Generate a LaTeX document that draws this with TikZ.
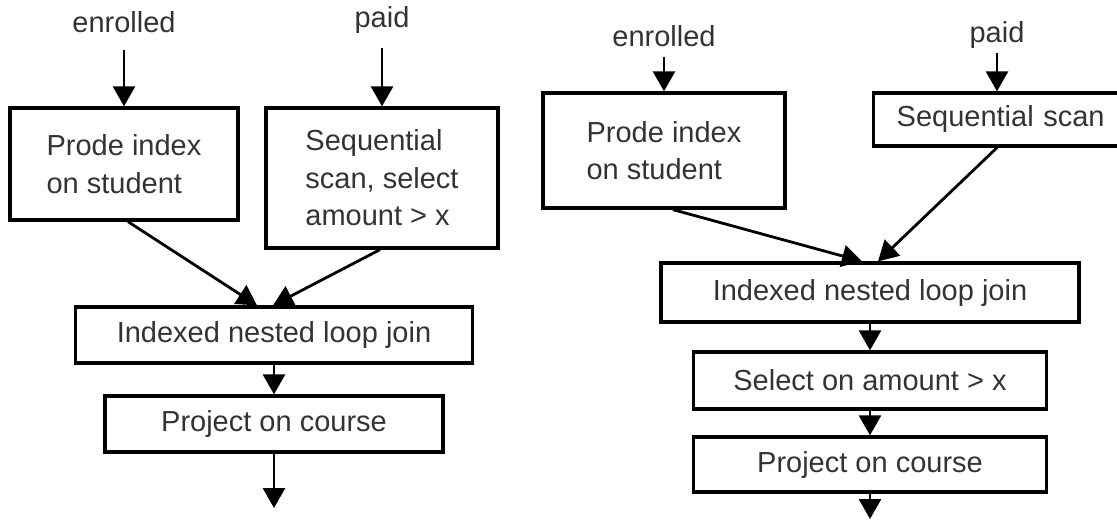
\documentclass[tikz,border=0pt]{standalone}
\usepackage{fontspec}
\setmainfont{Liberation Sans}
\usetikzlibrary{arrows.meta}
\tikzset{
  plan box/.style={
    draw,
    line width=1.65pt,
    inner sep=0pt,
    align=left,
    text=black!80,
    font=\fontsize{14.5pt}{18.75pt}\selectfont
  },
  rel label/.style={
    inner sep=0pt,
    anchor=base,
    text=black!80,
    font=\fontsize{14.5pt}{18.75pt}\selectfont
  },
  flow/.style={
    line width=1.4pt,
    -{Triangle[length=10pt,width=11pt]}
  },
}

\begin{document}
\begin{tikzpicture}[x=0.5pt,y=-0.5pt]
  \useasboundingbox (0,0) rectangle (1117,519);
  \node[rel label] (enr1) at (124,33) {enrolled};
  \node[plan box,minimum width=114pt,minimum height=56pt] (pb1) at (124,164) {Prode index\\on student};
  \node[rel label] (paid1) at (382,28) {paid};
  \node[plan box,minimum width=116pt,minimum height=70pt] (seq1) at (382,178) {Sequential\\scan, select\\amount > x};
  \node[plan box,minimum width=198.5pt,minimum height=28pt] (join1) at (274,335) {Indexed nested loop join};
  \node[plan box,minimum width=169pt,minimum height=28pt] (proj1) at (274,424) {Project on course};
  \coordinate (out1) at (274,508);
  \draw[flow] ([yshift=-8.5pt]enr1.base) -- (pb1.north);
  \draw[flow] ([yshift=-10pt]paid1.base) -- (seq1.north);
  \draw[flow] ([xshift=2pt]pb1.south) -- ([xshift=-8.5pt]join1.north);
  \draw[flow] ([xshift=-1pt]seq1.south) -- ([xshift=-0.5pt]join1.north);
  \draw[flow] (join1) -- (proj1);
  \draw[flow] (proj1) -- (out1);

  \node[rel label] (enr2) at (664,47) {enrolled};
  \node[plan box,minimum width=121pt,minimum height=57.5pt] (pb2) at (664,150.5) {Prode index\\on student};
  \node[rel label] (paid2) at (997,43) {paid};
  \node[plan box,anchor=west,inner xsep=11.5pt,text width=110pt,minimum height=26.5pt] (seq2) at (872,119.5) {Sequential scan};
  \node[plan box,minimum width=209pt,minimum height=29.5pt] (join2) at (870,292.5) {Indexed nested loop join};
  \node[plan box,minimum width=176.5pt,minimum height=28.5pt] (sel) at (870,380.5) {Select on amount > x};
  \node[plan box,minimum width=176.5pt,minimum height=27.5pt] (proj2) at (870,464.5) {Project on course};
  \coordinate (out2) at (870,519);
  \draw[flow] ([yshift=-5pt]enr2.base) -- (pb2.north);
  \draw[flow] ([yshift=-5pt]paid2.base) -- (paid2 |- seq2.north);
  \draw[flow] ([xshift=4.5pt]pb2.south) -- ([xshift=-4pt]join2.north);
  \draw[flow] (paid2 |- seq2.south) -- ([xshift=4pt]join2.north);
  \draw[flow] (join2) -- (sel);
  \draw[flow] (sel) -- (proj2);
  \draw[flow] (proj2) -- (out2);
\end{tikzpicture}
\end{document}
